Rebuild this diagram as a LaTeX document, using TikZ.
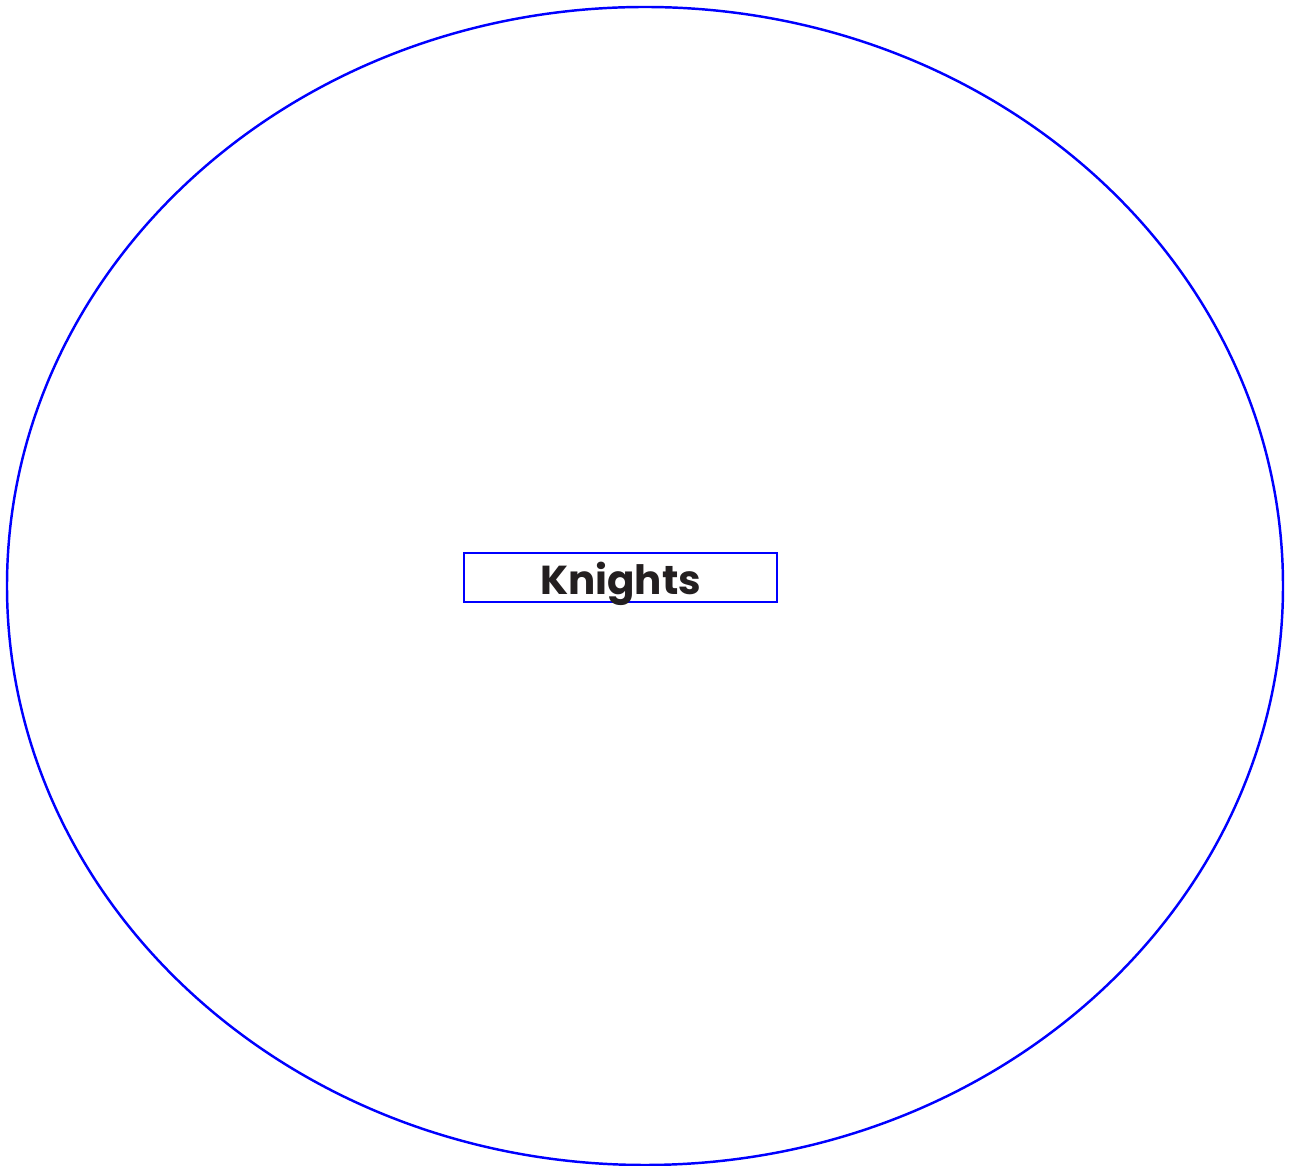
\documentclass[tikz,border=0pt]{standalone}
\usepackage{fontspec}
\setmainfont{Poppins}
\usepackage{xcolor}
\usetikzlibrary{shapes.geometric}
\definecolor{inkgray}{HTML}{231F20}

\begin{document}
\begin{tikzpicture}[
  set/.style={ellipse,draw=blue,line width=1.4pt,minimum width=25.52cm,minimum height=23.16cm,inner sep=0pt},
  setlabel/.style={rectangle,draw=blue,line width=1.4pt,minimum width=6.26cm,text height=0.84cm,text depth=0.14cm,inner sep=0pt,text=inkgray,font=\fontsize{23}{25}\selectfont\bfseries}
]
  \useasboundingbox (0,0) rectangle (25.82,23.32);
  \node[set] (knightsset) at (12.9,11.6) {};
  \node[setlabel] (knights) at (12.41,11.77) {Knights};
\end{tikzpicture}
\end{document}
